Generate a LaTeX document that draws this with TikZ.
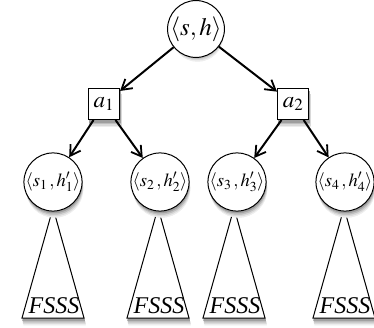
\documentclass[tikz,border=0pt]{standalone}
\usepackage{mathptmx}
\usepackage{fontspec}
\setmainfont{Liberation Serif}
\usetikzlibrary{arrows.meta}
\definecolor{shA}{gray}{0.93}
\definecolor{shB}{gray}{0.85}
\definecolor{shC}{gray}{0.74}
\definecolor{shD}{gray}{0.62}
\begin{document}
\begin{tikzpicture}[x=1pt,y=-1pt,
  rootst/.style={circle, draw, fill=white, line width=1pt, minimum size=51pt, inner sep=0pt, font=\fontsize{25}{28}\selectfont},
  leafst/.style={circle, draw, fill=white, line width=1pt, minimum size=57pt, inner sep=0pt, font=\fontsize{18.5}{22}\selectfont},
  actst/.style={rectangle, draw, fill=white, line width=1pt, minimum size=31pt, inner sep=0pt, font=\fontsize{23}{26}\selectfont},
  tri/.style={draw, fill=white, line width=1pt},
  lab/.style={anchor=base, inner sep=0pt, font=\fontsize{24}{28}\selectfont\itshape},
  shadowpath/.style={draw=#1, fill=#1, line width=0.5pt},
  arr/.style={-{Straight Barb[length=10pt,width=12pt,line width=1.8pt]}, line width=2pt}
]
\useasboundingbox (0,0) rectangle (374,328);
\coordinate (cr) at (196,29);
\coordinate (ca1) at (104,104);
\coordinate (ca2) at (293,104);
\coordinate (c1) at (53,182);
\coordinate (c2) at (160,182);
\coordinate (c3) at (237,182);
\coordinate (c4) at (345,182);
% triangles with shadows
\foreach \i/\x in {1/53,2/158,3/234,4/344}{
  \foreach \dx/\dy/\shc in {1.6/7/shA, 1.3/5.5/shB, 1/4/shC, 0.6/2.5/shD}{
    \path[shadowpath=\shc] (\x+\dx,208+\dy) -- (\x-31+\dx,318+\dy) -- (\x+31+\dx,318+\dy) -- cycle;
  }
  \draw[tri] (\x,208) -- (\x-31,318) -- (\x+31,318) -- cycle;
  \node[lab] (f\i) at (\x+1,313) {FSSS};
}
% shadows of circles and boxes
\foreach \dx/\dy/\shc in {1.6/7/shA, 1.3/5.5/shB, 1/4/shC, 0.6/2.5/shD}{
  \path[shadowpath=\shc] (196+\dx,29+\dy) circle[radius=25.5pt];
  \foreach \px in {53,160,237,345}
    \path[shadowpath=\shc] (\px+\dx,182+\dy) circle[radius=28.5pt];
  \foreach \px in {104,293}
    \path[shadowpath=\shc] (\px-15.5+\dx,88.5+\dy) rectangle ++(31,31);
}
\node[rootst] (r) at (cr) {$\langle s,h\rangle$};
\node[actst] (a1) at (ca1) {$a_1$};
\node[actst] (a2) at (ca2) {$a_2$};
\node[leafst] (l1) at (c1) {$\langle s_1\,,h'_1\rangle$};
\node[leafst] (l2) at (c2) {$\langle s_2\,,h'_2\rangle$};
\node[leafst] (l3) at (c3) {$\langle s_3\,,h'_3\rangle$};
\node[leafst] (l4) at (c4) {$\langle s_4\,,h'_4\rangle$};
\draw[arr] (r) -- (a1);
\draw[arr] (r) -- (a2);
\draw[arr] (a1) -- (l1);
\draw[arr] (a1) -- (l2);
\draw[arr] (a2) -- (l3);
\draw[arr] (a2) -- (l4);
\end{tikzpicture}
\end{document}
